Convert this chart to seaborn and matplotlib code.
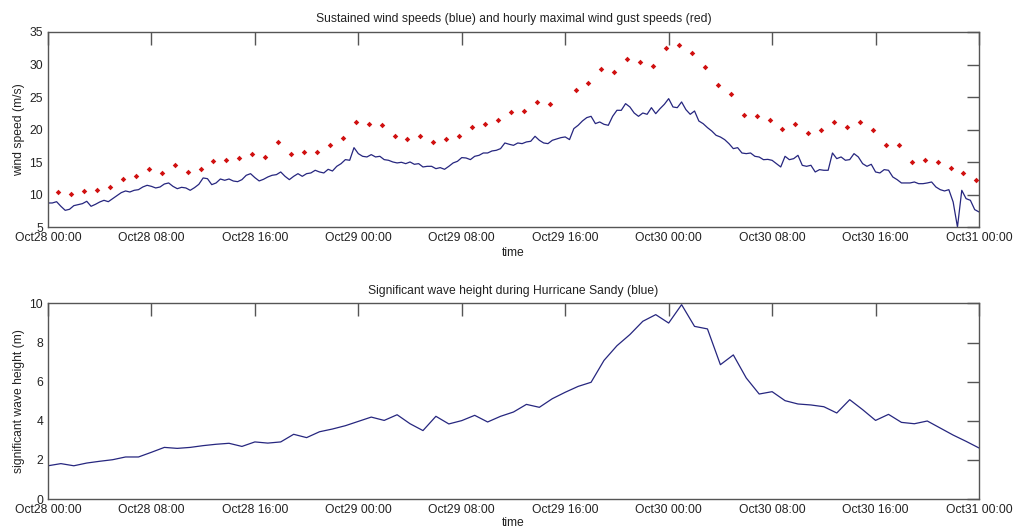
import numpy as np
import pandas as pd
import matplotlib
matplotlib.use("Agg")
import matplotlib.pyplot as plt
import matplotlib.dates as mdates
import seaborn as sns

# ---------------- data ----------------
start = pd.Timestamp("2012-10-28 00:00")

# sustained wind speed (m/s), every 20 minutes from Oct28 00:00 to Oct31 00:00
wind_speed = [
    8.70, 8.70, 8.90, 8.19, 7.57, 7.73, 8.29, 8.44, 8.60, 8.96, 8.19, 8.49, 8.85, 9.11, 8.90,
    9.37, 9.83, 10.29, 10.55, 10.39, 10.65, 10.75, 11.16, 11.42, 11.26, 11.01, 11.16, 11.62,
    11.78, 11.26, 10.90, 11.11, 11.01, 10.65, 11.06, 11.57, 12.55, 12.44, 11.52, 11.78, 12.39,
    12.19, 12.39, 12.08, 11.98,
    12.29, 12.96, 13.21, 12.60, 12.09, 12.34, 12.70, 12.96, 13.06, 13.47, 12.80, 12.29, 12.80,
    13.21, 12.80, 13.21, 13.32, 13.73, 13.47, 13.32, 13.88, 13.62, 14.34, 14.75, 15.37, 15.27,
    17.21, 16.29, 15.88, 15.78, 16.14, 15.78, 15.88, 15.37, 15.27, 15.01, 14.86, 14.96, 14.75,
    15.01, 14.65, 14.75, 14.24, 14.34,
    14.34, 13.98, 14.14, 13.88, 14.34, 14.86, 15.11, 15.68, 15.62, 15.37, 15.88, 16.03, 16.39,
    16.39, 16.70, 16.80, 17.06, 17.93, 17.73, 17.57, 17.93, 17.83, 18.09, 18.19, 18.96, 18.34,
    17.93, 17.83, 18.34, 18.55, 18.75, 18.86, 18.45, 20.14, 20.65, 21.32, 21.83, 22.03, 20.91,
    21.16, 20.80, 20.65, 22.03, 22.96,
    22.95, 23.98, 23.47, 22.54, 22.03, 22.54, 22.34, 23.36, 22.44, 23.21, 23.88, 24.75, 23.47,
    23.36, 24.24, 23.06, 22.34, 22.85, 21.31, 20.90, 20.29, 19.77, 19.11, 18.85, 18.44, 17.82,
    17.06, 17.21, 16.39, 16.29, 16.39, 15.88, 15.77, 15.36, 15.41, 15.26, 14.75, 14.24, 15.88,
    15.36, 15.52, 16.03, 14.49, 14.34,
    14.50, 13.47, 13.83, 13.73, 13.73, 16.39, 15.52, 15.78, 15.27, 15.37, 16.29, 15.78, 14.75,
    14.34, 14.65, 13.47, 13.32, 13.83, 13.73, 12.70, 12.29, 11.78, 11.78, 11.78, 11.93, 11.67,
    11.67, 11.78, 11.93, 11.16, 10.75, 10.55, 10.75, 8.85, 5.00, 10.65, 9.37, 9.11, 7.68, 7.32,
]

# hourly maximal wind gust speed (m/s), one value per hour (one missing hour)
gust_speed = [
    10.33, 10.08, 10.49, 10.74, 11.21, 12.38, 12.85, 13.87, 13.36, 14.59, 13.46, 13.87,
    15.10, 15.36, 15.67, 16.23, 15.82, 18.13, 16.28, 16.59, 16.59, 17.67,
    18.69, 21.10, 20.79, 20.64, 19.05, 18.54, 18.95, 18.13, 18.54, 19.05, 20.38, 20.79,
    21.41, 22.74, 22.90, 24.23, 23.92, np.nan,
    26.03, 27.10, 29.36, 28.85, 30.85, 30.33, 29.77, 32.54,
    32.95, 31.82, 29.67, 26.90, 25.41, 22.18, 22.03, 21.51, 20.13, 20.79, 19.46, 19.87,
    21.21, 20.38, 21.21, 19.87, 17.56, 17.56, 15.00, 15.36, 15.00, 14.03, 13.36, 12.28,
]

# significant wave height (m), hourly from Oct28 00:00 to Oct31 00:00
wave_height = [
    1.70, 1.81, 1.70, 1.84, 1.93, 2.01, 2.15, 2.15, 2.39, 2.64, 2.59, 2.64, 2.73, 2.80,
    2.85, 2.69, 2.92, 2.86, 2.92, 3.31, 3.14, 3.44, 3.58,
    3.75, 3.97, 4.19, 4.02, 4.31, 3.85, 3.50, 4.23, 3.84, 4.01, 4.28, 3.94, 4.23, 4.45,
    4.84, 4.69, 5.13, 5.46, 5.76, 5.97, 7.09, 7.84, 8.41, 9.09, 9.43, 9.00,
    9.94, 8.83, 8.70, 6.87, 7.37, 6.19, 5.37, 5.49, 5.03, 4.86, 4.81, 4.72, 4.40, 5.08,
    4.57, 4.02, 4.33, 3.92, 3.85, 3.99, 3.63, 3.27, 2.95, 2.61,
]

wind_df = pd.DataFrame({
    "time": start + pd.to_timedelta(np.arange(len(wind_speed)) * 20, unit="min"),
    "speed": wind_speed,
})
gust_df = pd.DataFrame({
    "time": start + pd.to_timedelta(np.arange(len(gust_speed)) * 60 + 48, unit="min"),
    "speed": gust_speed,
}).dropna()
wave_df = pd.DataFrame({
    "time": start + pd.to_timedelta(np.arange(len(wave_height)) * 60, unit="min"),
    "height": wave_height,
})

# ---------------- style ----------------
sns.set_style("white")
plt.rcParams["font.family"] = ["Liberation Sans", "DejaVu Sans"]
FS = 8.7

LINE = "#26267f"
RED = "#d01010"
SPINE = "#555555"
TXT = "#222222"

fig = plt.figure(figsize=(10.14, 5.28), dpi=100)
ax1 = fig.add_axes([0.0473, 0.570, 0.9182, 0.3694])
ax2 = fig.add_axes([0.0473, 0.0549, 0.9182, 0.3703])

sns.lineplot(data=wind_df, x="time", y="speed", ax=ax1, color=LINE, linewidth=0.9)
sns.scatterplot(data=gust_df, x="time", y="speed", ax=ax1, color=RED, marker="D",
                s=8, linewidth=0, zorder=3)
sns.lineplot(data=wave_df, x="time", y="height", ax=ax2, color=LINE, linewidth=0.9)

t0 = start
t1 = start + pd.Timedelta(hours=72)

for ax in (ax1, ax2):
    ax.set_xlim(t0, t1)
    ax.xaxis.set_major_locator(mdates.HourLocator(byhour=[0, 8, 16]))
    ax.xaxis.set_major_formatter(mdates.DateFormatter("%b%d %H:%M"))
    ax.tick_params(direction="in", length=9, width=1.0, top=True, right=True,
                   colors=SPINE, labelcolor=TXT, labelsize=FS, pad=3.5)
    for sp in ax.spines.values():
        sp.set_color(SPINE)
        sp.set_linewidth(1.0)

ax1.set_xlabel("time", fontsize=FS, color=TXT, labelpad=2.5)
ax2.set_xlabel("time", fontsize=FS, color=TXT, labelpad=0.5)

ax1.set_ylim(5, 35)
ax1.set_yticks([5, 10, 15, 20, 25, 30, 35])
ax1.set_ylabel("wind speed (m/s)", fontsize=FS, color=TXT, labelpad=3)
ax1.set_title("Sustained wind speeds (blue) and hourly maximal wind gust speeds (red)",
              fontsize=FS, color=TXT, pad=7)

ax2.set_ylim(0, 10)
ax2.set_yticks([0, 2, 4, 6, 8, 10])
ax2.set_ylabel("significant wave height (m)", fontsize=FS, color=TXT, labelpad=3)
ax2.set_title("Significant wave height during Hurricane Sandy (blue)",
              fontsize=FS, color=TXT, pad=7)

fig.savefig("out.png", dpi=100, facecolor="white")
